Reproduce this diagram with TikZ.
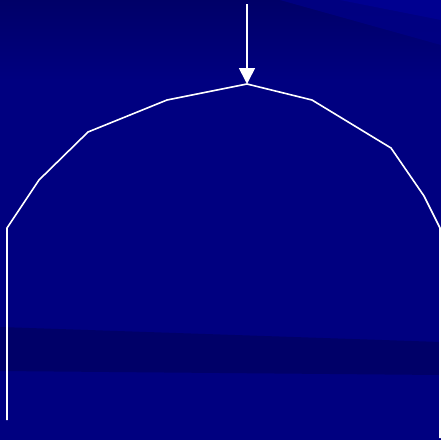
\documentclass[tikz,border=0pt]{standalone}
\usetikzlibrary{arrows.meta}
\definecolor{bgblue}{RGB}{0,0,128}
\definecolor{darkband}{RGB}{0,0,104}
\definecolor{lightband}{RGB}{0,0,144}
\tikzset{
  archline/.style={draw=white, line width=1.6pt, line join=miter},
  pointer/.style={draw=white, line width=1.6pt, -{Triangle[width=16pt,length=16pt]}}
}
\begin{document}
\begin{tikzpicture}[x=1pt,y=-1pt]
\fill[bgblue] (0,0) rectangle (441,440);
\useasboundingbox (0,0) rectangle (441,440);
% top dark area, fading downward
\shade[top color=darkband, bottom color=bgblue] (0,0) rectangle (441,80);
\fill[bgblue!60!lightband, opacity=0.8] (280,0) -- (441,0) -- (441,45) -- cycle;
\fill[lightband] (340,0) -- (441,0) -- (441,20) -- cycle;
% lower dark band
\fill[darkband] (0,327) -- (441,342) -- (441,375) -- (0,371) -- cycle;
% arch points
\coordinate (l0) at (7,420);
\coordinate (l1) at (7,228);
\coordinate (l2) at (39,180);
\coordinate (l3) at (88,132);
\coordinate (l4) at (167,100);
\coordinate (apex) at (247,84);
\coordinate (r4) at (312,100);
\coordinate (r3) at (391,148);
\coordinate (r2) at (424,196);
\coordinate (r1) at (440,228);
\coordinate (r0) at (440,438);
\coordinate (top) at (247,4);
\draw[archline] (l0) -- (l1) -- (l2) -- (l3) -- (l4) -- (apex) -- (r4) -- (r3) -- (r2) -- (r1) -- (r0);
\draw[pointer] (top) -- (apex);
\end{tikzpicture}
\end{document}
